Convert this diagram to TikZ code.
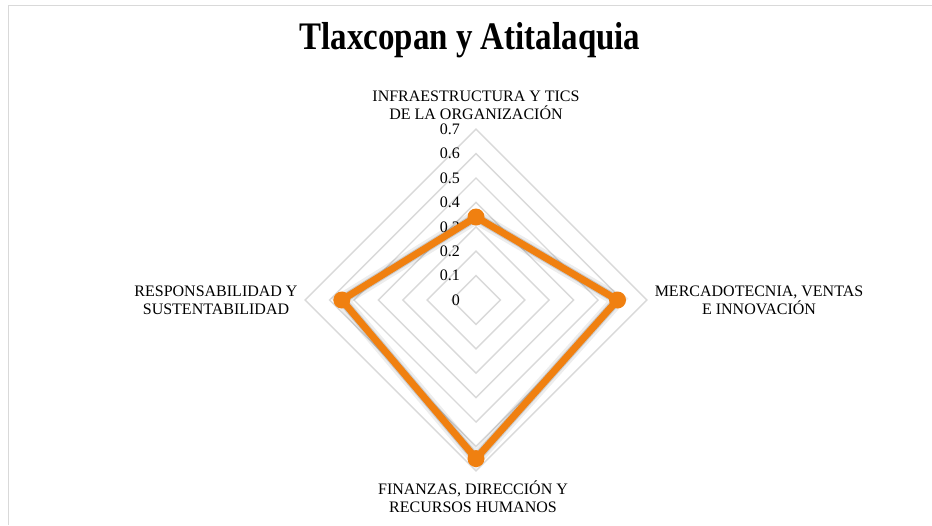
\documentclass[tikz,border=0pt]{standalone}
\usepackage{fontspec}
\setmainfont{Liberation Serif}[BoldFont={Liberation Serif Bold}]
\definecolor{gridc}{RGB}{217,217,217}
\definecolor{framec}{RGB}{217,217,217}
\definecolor{serc}{RGB}{240,128,16}
\tikzset{
  gridline/.style={draw=gridc, line width=1.4pt},
  ticklbl/.style={font=\fontsize{16}{18}\selectfont, inner sep=0pt, anchor=east},
  axlbl/.style={font=\fontsize{16}{18}\selectfont, align=center, inner sep=0pt},
  serline/.style={draw=serc, line width=7pt, line join=miter},
  shadowline/.style={draw=black, opacity=0.15, line width=9pt},
  dot/.style={circle, fill=serc, minimum size=17pt, inner sep=0pt},
}
\begin{document}
\begin{tikzpicture}[x=1pt,y=-1pt]
\useasboundingbox (0,0) rectangle (932,525);
\fill[white] (0,0) rectangle (932,525);
\draw[framec, line width=1.6pt] (8.5,525) -- (8.5,5.5) -- (932,5.5);
% title
\node[font=\bfseries\fontsize{39}{42}\selectfont, xscale=0.845, anchor=base] (title) at (470,49) {Tlaxcopan y Atitalaquia};
% grid
\foreach \k in {1,...,7}{
  \draw[gridline] (476,{300-24.4*\k}) -- ({476+24.4*\k},300) -- (476,{300+24.4*\k}) -- ({476-24.4*\k},300) -- cycle;
}
% tick labels
\node[ticklbl] (t0) at (460,300) {0};
\foreach \k in {1,...,7}{
  \node[ticklbl] (t\k) at (460,{300-24.4*\k}) {0.\k};
}
% axis labels
\node[axlbl] (ax1) at (476,105) {INFRAESTRUCTURA Y TICS\\DE LA ORGANIZACIÓN};
\node[axlbl] (ax2) at (759,300) {MERCADOTECNIA, VENTAS\\E INNOVACIÓN};
\node[axlbl] (ax3) at (473,497) {FINANZAS, DIRECCIÓN Y\\RECURSOS HUMANOS};
\node[axlbl] (ax4) at (216,300) {RESPONSABILIDAD Y\\SUSTENTABILIDAD};
% data
\coordinate (pT) at (476,217);
\coordinate (pR) at (617.5,300);
\coordinate (pB) at (476,458.6);
\coordinate (pL) at (341.8,300);
\begin{scope}[shift={(2,3)}]
  \draw[shadowline] (pT) -- (pR) -- (pB) -- (pL) -- cycle;
  \draw[black, opacity=0.07, line width=14pt] (pT) -- (pR) -- (pB) -- (pL) -- cycle;
\end{scope}
\draw[serline] (pT) -- (pR) -- (pB) -- (pL) -- cycle;
\node[dot] (dT) at (pT) {};
\node[dot] (dR) at (pR) {};
\node[dot] (dB) at (pB) {};
\node[dot] (dL) at (pL) {};
\end{tikzpicture}
\end{document}
